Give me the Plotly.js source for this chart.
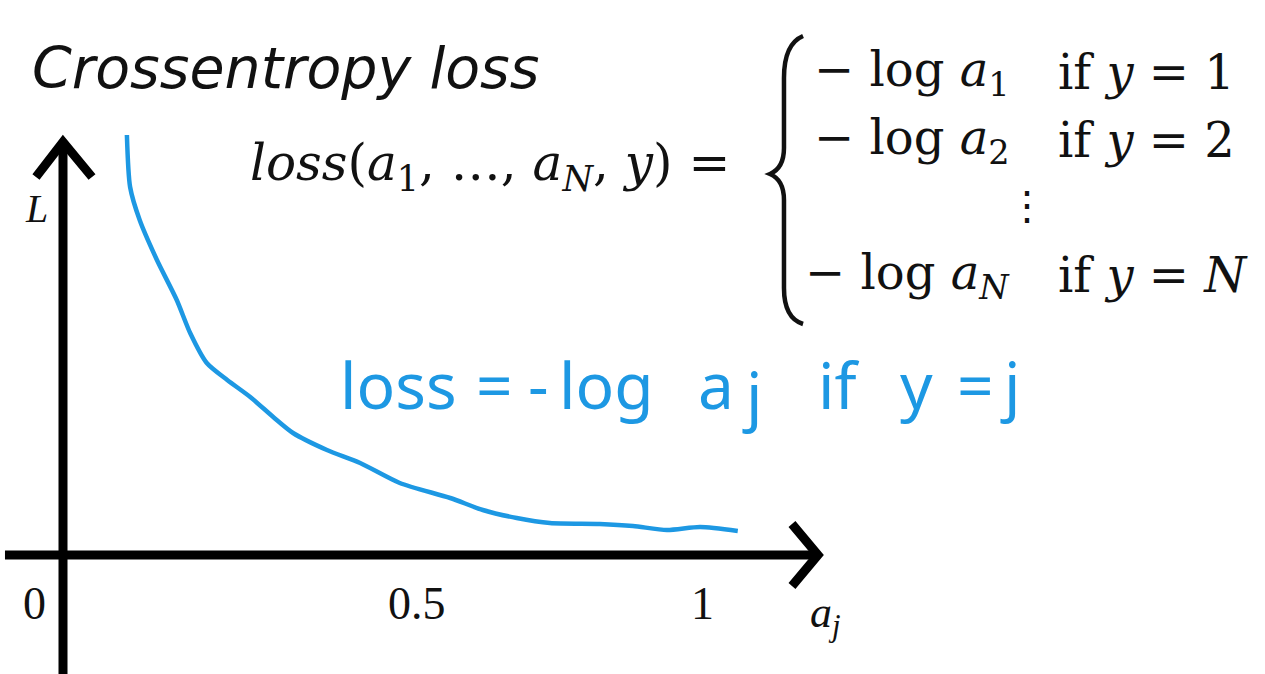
<!DOCTYPE html>
<html>
<head>
<meta charset="utf-8">
<script src="https://cdn.plot.ly/plotly-3.0.1.min.js"></script>
<style>html,body{margin:0;padding:0;background:#fff;}#chart{width:1265px;height:674px;}</style>
</head>
<body>
<div id="chart"></div>
<script>
// ---- data ----
const ajValues = [0.100,0.105,0.120,0.147,0.178,0.199,0.225,0.257,0.293,0.329,0.360,0.413,0.465,0.527,0.606,0.657,0.710,0.762,0.840,0.892,0.945,0.997,1.056];
const lossValues = [4.20,3.68,3.35,2.95,2.55,2.22,1.92,1.75,1.58,1.38,1.22,1.05,0.92,0.72,0.57,0.45,0.37,0.32,0.31,0.29,0.25,0.28,0.24];
const tickValues = [0, 0.5, 1];
const tickLabels = ["0", "0.5", "1"];
const titleText = "Crossentropy loss";
const formulaText = "<i>loss</i>(<i>a</i><sub>1</sub>, …, <i>a</i><sub><i>N</i></sub>, <i>y</i>) =";
const caseLeft = ["− log <i>a</i><sub>1</sub>", "− log <i>a</i><sub>2</sub>", "− log <i>a</i><sub><i>N</i></sub>"];
const caseRight = ["if <i>y</i> = 1", "if <i>y</i> = 2", "if <i>y</i> = <i>N</i>"];
const handTokens = ["loss", "=", "-", "log", "a", "j", "if", "y", "=", "j"];

// ---- page geometry helpers (pixel -> data) ----
const X0PX = 63, XSCALE = 639, Y0PX = 555, YSCALE = 100;
const px2x = p => (p - X0PX) / XSCALE;
const py2y = p => (Y0PX - p) / YSCALE;
const pathFrom = pts => pts.map((p, i) => (i ? 'L' : 'M') + px2x(p[0]).toFixed(4) + ',' + py2y(p[1]).toFixed(4)).join(' ');

const BLUE = '#1d98e3';
const serif = 'DejaVu Serif, Liberation Serif, serif';

const trace = {
  x: ajValues, y: lossValues, type: 'scatter', mode: 'lines',
  line: {color: BLUE, width: 4.5, shape: 'spline', smoothing: 0.7},
  hoverinfo: 'skip', showlegend: false
};

function bracePath() {
  const P = (x, y) => px2x(x).toFixed(4) + ',' + py2y(y).toFixed(4);
  return 'M' + P(803, 36) + ' Q' + P(784, 44) + ' ' + P(784, 78) +
         ' L' + P(784, 148) + ' Q' + P(784, 168) + ' ' + P(770, 174) +
         ' Q' + P(784, 180) + ' ' + P(784, 200) +
         ' L' + P(784, 288) + ' Q' + P(784, 318) + ' ' + P(803, 324);
}

const shapes = [
  {type: 'path', path: pathFrom([[63, 674], [63, 142]]), line: {color: '#000', width: 9}},
  {type: 'path', path: pathFrom([[36, 177], [63, 142], [92, 177]]), line: {color: '#000', width: 9}},
  {type: 'path', path: pathFrom([[5, 555], [815, 555]]), line: {color: '#000', width: 9}},
  {type: 'path', path: pathFrom([[792, 524], [818, 555], [792, 586]]), line: {color: '#000', width: 9}},
  {type: 'path', path: bracePath(), line: {color: '#111', width: 4.5}}
];

const annotations = [];
function txt(text, px, py, size, opts) {
  annotations.push(Object.assign({
    text: text, x: px2x(px), y: py2y(py), xref: 'x', yref: 'y',
    showarrow: false, xanchor: 'left', yanchor: 'middle',
    font: {family: serif, size: size, color: '#111'}
  }, opts || {}));
}

txt(titleText, 30, 68, 57, {font: {family: 'DejaVu Sans, sans-serif', size: 57, color: '#111', style: 'italic'}});
txt(formulaText, 248, 166, 50);
const rowY = [72, 140, 275];
const leftX = [812, 812, 803];
for (let i = 0; i < 3; i++) {
  txt(caseLeft[i], leftX[i], rowY[i], 48);
  txt(caseRight[i], 1056, rowY[i], 48);
}
txt('⋮', 1027, 205, 40, {xanchor: 'center'});
const handX = [338, 474, 526, 557, 696, 740, 816, 898, 955, 998];
const handY = [384, 384, 384, 384, 384, 394, 384, 384, 384, 384];
for (let i = 0; i < handTokens.length; i++) {
  txt(handTokens[i], handX[i], handY[i], 64, {font: {family: 'Noto Sans, sans-serif', size: 64, color: BLUE}});
}
txt('L', 36, 208, 40, {xanchor: 'center', font: {family: 'Liberation Serif, serif', size: 40, color: '#111', style: 'italic'}});
txt('a<sub>j</sub>', 808, 615, 44, {font: {family: 'Liberation Serif, serif', size: 44, color: '#111', style: 'italic'}});

const tickShift = [-29, 34, 0];
for (let i = 0; i < tickValues.length; i++) {
  annotations.push({
    text: tickLabels[i], x: tickValues[i], y: py2y(603), xref: 'x', yref: 'y',
    showarrow: false, xanchor: 'center', yanchor: 'middle', xshift: tickShift[i],
    font: {family: 'Liberation Serif, serif', size: 46, color: '#111'}
  });
}

const layout = {
  width: 1265, height: 674,
  margin: {l: 0, r: 0, t: 0, b: 0},
  paper_bgcolor: '#fff', plot_bgcolor: '#fff',
  xaxis: {range: [px2x(0), px2x(1265)], visible: false, fixedrange: true},
  yaxis: {range: [py2y(674), py2y(0)], visible: false, fixedrange: true},
  shapes: shapes, annotations: annotations, showlegend: false
};

Plotly.newPlot('chart', [trace], layout, {displayModeBar: false, staticPlot: true});
</script>
</body>
</html>
